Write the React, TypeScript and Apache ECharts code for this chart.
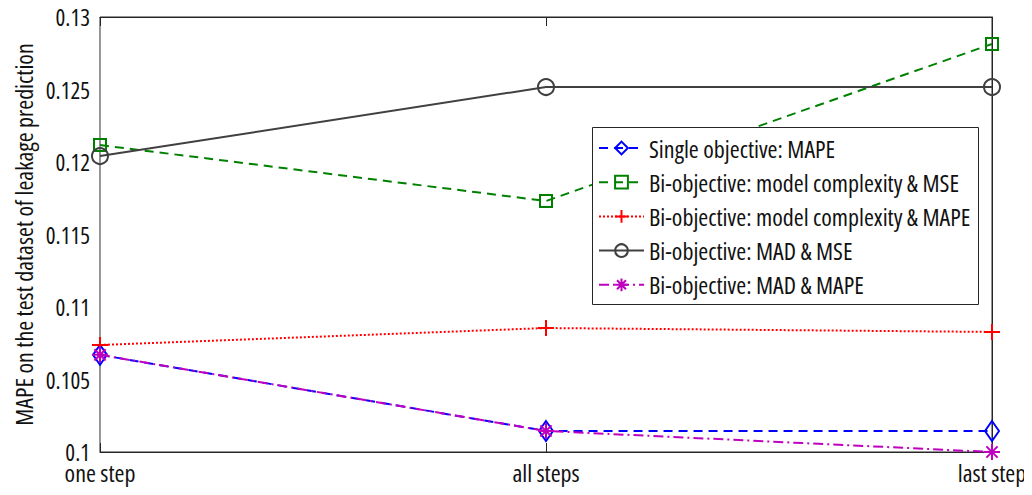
import React, { useEffect, useRef } from "react";
import * as echarts from "echarts";

const categories = ["one step", "all steps", "last step"];
const singleMAPE = [0.1067, 0.10145, 0.10145];
const biComplexMSE = [0.12117, 0.11731, 0.12814];
const biComplexMAPE = [0.10738, 0.10855, 0.10828];
const biMADMSE = [0.12041, 0.12517, 0.12517];
const biMADMAPE = [0.1067, 0.10145, 0.1];
const seriesNames = [
  "Single objective: MAPE",
  "Bi-objective: model complexity & MSE",
  "Bi-objective: model complexity & MAPE",
  "Bi-objective: MAD & MSE",
  "Bi-objective: MAD & MAPE",
];
const yTicks = [0.1, 0.105, 0.11, 0.115, 0.12, 0.125, 0.13];

const FONT = "'Open Sans', 'DejaVu Sans', sans-serif";
const FS = 24;

const PLUS = "path://M0,5L10,5M5,0L5,10";
const STAR = "path://M0,5L10,5M5,0L5,10M1.5,1.5L8.5,8.5M1.5,8.5L8.5,1.5";

export default function App() {
  const ref = useRef<HTMLDivElement>(null);
  useEffect(() => {
    const chart = echarts.init(ref.current!, null, { renderer: "svg" });
    const mk = (
      name: string,
      data: number[],
      color: string,
      symbol: string,
      size: number | number[],
      type: any,
      z: number
    ) => ({
      name,
      type: "line",
      data,
      symbol,
      symbolSize: size,
      showAllSymbol: true,
      z,
      lineStyle: { color, width: 2, type },
      itemStyle: { color: "transparent", borderColor: color, borderWidth: 2 },
      emphasis: { disabled: true },
    });
    chart.setOption({
      animation: false,
      textStyle: { fontFamily: FONT },
      grid: {
        left: 92,
        right: 32,
        top: 9,
        bottom: 35,
        show: true,
        borderColor: "#262626",
        borderWidth: 1,
        outerBoundsMode: "none",
        containLabel: false,
      },
      graphic: [
        {
          type: "rect",
          left: 584,
          top: 119,
          z: 50,
          shape: { width: 386, height: 177 },
          style: { fill: "#ffffff", stroke: "#262626", lineWidth: 1 },
        },
      ],
      legend: {
        orient: "vertical",
        left: 590,
        top: 128,
        padding: 0,
        itemWidth: 45,
        itemHeight: 16,
        itemGap: 10.2,
        z: 60,
        data: seriesNames,
        textStyle: { fontFamily: FONT, fontSize: FS, color: "#111" },
      },
      xAxis: [
        {
          type: "category",
          data: categories,
          boundaryGap: false,
          axisLine: { lineStyle: { color: "#262626", width: 1 } },
          axisTick: { inside: true, length: 9, lineStyle: { color: "#262626" } },
          axisLabel: { fontFamily: FONT, fontSize: FS, color: "#111", margin: 8 },
          splitLine: { show: false },
        },
        {
          type: "category",
          data: categories,
          boundaryGap: false,
          position: "top",
          axisLine: { lineStyle: { color: "#262626", width: 1 } },
          axisTick: { inside: true, length: 9, lineStyle: { color: "#262626" } },
          axisLabel: { show: false },
          splitLine: { show: false },
        },
      ],
      yAxis: [
        {
          type: "value",
          min: 0.1,
          max: 0.13,
          interval: 0.005,
          name: "MAPE on the test dataset of leakage prediction",
          nameLocation: "middle",
          nameGap: 65,
          nameMoveOverlap: false,
          nameTextStyle: { fontFamily: FONT, fontSize: FS, color: "#111" },
          axisLine: { show: true, lineStyle: { color: "#9a9a9a", width: 1 } },
          axisTick: { inside: true, length: 9, lineStyle: { color: "#262626" } },
          axisLabel: {
            fontFamily: FONT,
            fontSize: 23,
            color: "#111",
            margin: 10,
            formatter: (v: number) => {
              const t = yTicks.find((x) => Math.abs(x - v) < 1e-9);
              return t === undefined ? "" : String(+t.toFixed(3));
            },
          },
          splitLine: { show: false },
        },
        {
          type: "value",
          min: 0.1,
          max: 0.13,
          interval: 0.005,
          position: "right",
          axisLine: { show: true, lineStyle: { color: "#262626", width: 1 } },
          axisTick: { inside: true, length: 9, lineStyle: { color: "#262626" } },
          axisLabel: { show: false },
          splitLine: { show: false },
        },
      ],
      series: [
        mk(seriesNames[0], singleMAPE, "#0000ff", "diamond", [14, 20], [9, 6], 2),
        mk(seriesNames[1], biComplexMSE, "#008000", "rect", 12, [9, 6], 3),
        mk(seriesNames[2], biComplexMAPE, "#ff0000", PLUS, 16, [2, 2], 4),
        mk(seriesNames[3], biMADMSE, "#404040", "circle", 16, "solid", 5),
        mk(seriesNames[4], biMADMAPE, "#bf00bf", STAR, 16, [10, 4, 2, 4], 6),
      ],
    });
    return () => chart.dispose();
  }, []);
  return (
    <>
      <style>{"#root svg text{font-stretch:75% !important;}"}</style>
      <div ref={ref} style={{ width: 1016, height: 479 }} />
    </>
  );
}
